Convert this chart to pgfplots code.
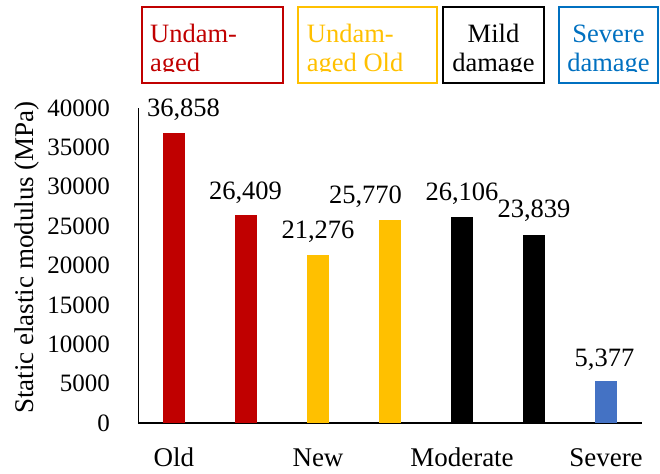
\documentclass[border=0pt]{standalone}
\usepackage{pgfplots}
\pgfplotsset{compat=1.18}
\usepackage{fontspec}
\setmainfont{Liberation Serif}
\definecolor{cred}{HTML}{C00000}
\definecolor{cyel}{HTML}{FFC000}
\definecolor{cblue}{HTML}{4472C4}
\definecolor{cblue2}{HTML}{0070C0}
\pgfplotsset{
  vbar/.style={ybar, bar width=22pt, bar shift=0pt, fill=#1, draw=none,
    nodes near coords, point meta=y,
    nodes near coords align={anchor=base},
    every node near coord/.append style={text=black, inner sep=0pt,
      font=\fontsize{26.5}{30}\selectfont,
      /pgf/number format/1000 sep={,}}},
}
\begin{document}
\begin{tikzpicture}[x=1pt,y=1pt]
\useasboundingbox (-138,-50) rectangle (522,423);
\begin{axis}[
  at={(0,0)}, anchor=south west, scale only axis,
  width=504pt, height=315pt,
  xmin=-0.5, xmax=6.5, ymin=0, ymax=40000,
  axis x line*=bottom, axis y line*=left,
  x axis line style={line width=1.6pt},
  y axis line style={line width=0.9pt},
  xtick={0,2,4,6}, xticklabels={Old,New,Moderate,Severe},
  ytick={0,5000,...,40000},
  major tick length=0pt, tick style={draw=none},
  scaled y ticks=false,
  /pgf/number format/fixed, /pgf/number format/precision=0,
  /pgf/number format/assume math mode=true,
  yticklabel style={font=\fontsize{25}{28}\selectfont, inner sep=0pt, anchor=east, xshift=-28pt,
    /pgf/number format/1000 sep={}},
  xticklabel style={font=\fontsize{27}{30}\selectfont, inner sep=0pt, anchor=base, yshift=-43pt},
  ylabel={Static elastic modulus (MPa)},
  ylabel style={at={(rel axis cs:-0.2202,0.5254)}, anchor=center, font=\fontsize{27}{30}\selectfont},
  clip=false,
]
\addplot[vbar=cred, every node near coord/.append style={xshift=9.5pt, yshift=16pt}] coordinates {(0,36858)};
\addplot[vbar=cred, every node near coord/.append style={xshift=-0.5pt, yshift=16pt}] coordinates {(1,26409)};
\addplot[vbar=cyel, every node near coord/.append style={yshift=17.4pt}] coordinates {(2,21276)};
\addplot[vbar=cyel, every node near coord/.append style={xshift=-24.5pt, yshift=17pt}] coordinates {(3,25770)};
\addplot[vbar=black, every node near coord/.append style={yshift=17.4pt}] coordinates {(4,26106)};
\addplot[vbar=black, every node near coord/.append style={yshift=17.3pt}] coordinates {(5,23839)};
\addplot[vbar=cblue, every node near coord/.append style={xshift=-1.5pt, yshift=13.7pt}] coordinates {(6,5377)};
\end{axis}
\begin{scope}
\clip (0,351) rectangle (522,423);
\node[anchor=base west, inner sep=0pt, text=cred, font=\fontsize{26.5}{30}\selectfont] at (12,380) {Undam-};
\node[anchor=base west, inner sep=0pt, text=cred, font=\fontsize{26.5}{30}\selectfont] at (12,351) {aged};
\node[anchor=base west, inner sep=0pt, text=cyel, font=\fontsize{26.5}{30}\selectfont] at (168.7,380) {Undam-};
\node[anchor=base west, inner sep=0pt, text=cyel, font=\fontsize{26.5}{30}\selectfont] at (168.7,351) {aged Old};
\node[anchor=base, inner sep=0pt, text=black, font=\fontsize{26.5}{30}\selectfont] at (355.5,380) {Mild};
\node[anchor=base, inner sep=0pt, text=black, font=\fontsize{26.5}{30}\selectfont] at (355.5,351) {damage};
\node[anchor=base, inner sep=0pt, text=cblue2, font=\fontsize{26.5}{30}\selectfont] at (470.5,380) {Severe};
\node[anchor=base, inner sep=0pt, text=cblue2, font=\fontsize{26.5}{30}\selectfont] at (470.5,351) {damage};
\end{scope}
\draw[cred, line width=1.8pt] (4,340) rectangle (145,416);
\draw[cyel, line width=1.8pt] (160,340) rectangle (299,416);
\draw[black, line width=1.8pt] (305,340) rectangle (406,416);
\draw[cblue2, line width=1.8pt] (421,340) rectangle (520,416);
\end{tikzpicture}
\end{document}
